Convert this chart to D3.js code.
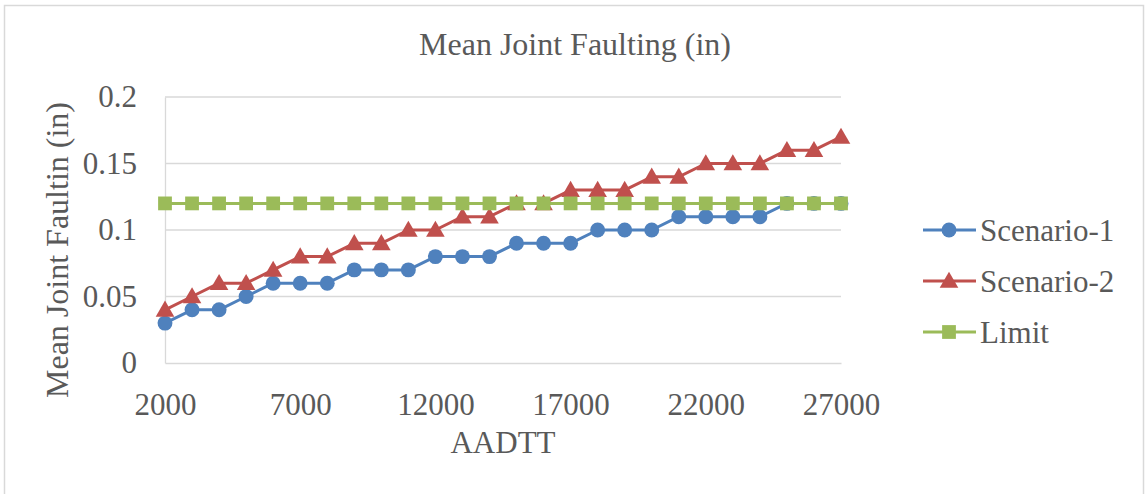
<!DOCTYPE html>
<html><head><meta charset="utf-8">
<script src="https://cdn.jsdelivr.net/npm/d3@7"></script>
<style>body{margin:0;background:#fff}svg{display:block}svg text{font-family:"Liberation Serif","Times New Roman",serif}</style>
</head><body>
<svg id="chart" width="1147" height="494"></svg>
<script>
const aadtt = [2000,3000,4000,5000,6000,7000,8000,9000,10000,11000,12000,13000,14000,15000,16000,17000,18000,19000,20000,21000,22000,23000,24000,25000,26000,27000];
const scenario1 = [0.03,0.04,0.04,0.05,0.06,0.06,0.06,0.07,0.07,0.07,0.08,0.08,0.08,0.09,0.09,0.09,0.10,0.10,0.10,0.11,0.11,0.11,0.11,0.12,0.12,0.12];
const scenario2 = [0.04,0.05,0.06,0.06,0.07,0.08,0.08,0.09,0.09,0.10,0.10,0.11,0.11,0.12,0.12,0.13,0.13,0.13,0.14,0.14,0.15,0.15,0.15,0.16,0.16,0.17];
const limit = [0.12,0.12,0.12,0.12,0.12,0.12,0.12,0.12,0.12,0.12,0.12,0.12,0.12,0.12,0.12,0.12,0.12,0.12,0.12,0.12,0.12,0.12,0.12,0.12,0.12,0.12];
const xTicks = [2000,7000,12000,17000,22000,27000];
const yTicks = [0,0.05,0.1,0.15,0.2];
const seriesNames = ["Scenario-1","Scenario-2","Limit"];

const svg = d3.select("#chart");
const font = "'Liberation Serif','Times New Roman',serif";
const textColor = "#595959";
const colors = ["#4F81BD","#C0504D","#9BBB59"];
const symbols = [d3.symbolCircle, d3.symbolTriangle, d3.symbolSquare];
const symSizes = [175, 150, 190];

// outer border
svg.append("rect").attr("x",4.5).attr("y",5.5).attr("width",1139).attr("height",490)
  .attr("fill","#fff").attr("stroke","#D9D9D9").attr("stroke-width",1.5);

const x = d3.scaleLinear().domain([2000,27000]).range([165,841]);
const y = d3.scaleLinear().domain([0,0.2]).range([363,97]);

// gridlines
svg.append("g").selectAll("line").data(yTicks.filter(d=>d>0)).join("line")
  .attr("x1",165).attr("x2",841).attr("y1",d=>y(d)).attr("y2",d=>y(d))
  .attr("stroke","#D9D9D9").attr("stroke-width",1.3);

// axes
const xAxis = svg.append("g").attr("transform","translate(0,363)")
  .call(d3.axisBottom(x).tickValues(xTicks).tickSize(0).tickPadding(30).tickFormat(d3.format("d")));
xAxis.attr("font-family",null);
xAxis.select(".domain").attr("stroke","#D9D9D9").attr("stroke-width",1.3);
xAxis.selectAll("text").style("font-family",font).attr("font-size",31).attr("fill",textColor);

const yAxis = svg.append("g").attr("transform","translate(165,0)")
  .call(d3.axisLeft(y).tickValues(yTicks).tickSize(0).tickPadding(28).tickFormat(d=>String(d)));
yAxis.attr("font-family",null);
yAxis.select(".domain").attr("stroke","#D9D9D9").attr("stroke-width",1.3);
yAxis.selectAll("text").style("font-family",font).attr("font-size",31).attr("fill",textColor);

// series
const allSeries = [scenario1, scenario2, limit];
allSeries.forEach((vals,i)=>{
  const data = aadtt.map((a,j)=>({a, v: vals[j]}));
  svg.append("path").datum(data)
    .attr("d", d3.line().x(d=>x(d.a)).y(d=>y(d.v)))
    .attr("fill","none").attr("stroke",colors[i]).attr("stroke-width",3).attr("stroke-linejoin","round");
  svg.append("g").selectAll("path").data(data).join("path")
    .attr("transform", d=>`translate(${x(d.a)},${y(d.v) + (i===1?1.5:0)})`)
    .attr("d", d3.symbol().type(symbols[i]).size(symSizes[i]))
    .attr("fill",colors[i]);
});

// title
svg.append("text").attr("x",575).attr("y",55).attr("text-anchor","middle")
  .style("font-family",font).attr("font-size",32).attr("fill",textColor).text("Mean Joint Faulting (in)");
// x title
svg.append("text").attr("x",503).attr("y",453).attr("text-anchor","middle")
  .style("font-family",font).attr("font-size",31).attr("fill",textColor).text("AADTT");
// y title
svg.append("text").attr("transform","translate(68,250) rotate(-90)").attr("text-anchor","middle")
  .style("font-family",font).attr("font-size",32).attr("fill",textColor).text("Mean Joint Faultin (in)");

// legend
const leg = svg.append("g");
seriesNames.forEach((name,i)=>{
  const ly = 230 + i*51;
  leg.append("line").attr("x1",923).attr("x2",976).attr("y1",ly).attr("y2",ly)
    .attr("stroke",colors[i]).attr("stroke-width",3);
  leg.append("path").attr("transform",`translate(949,${ly + (i===1?1.5:0)})`)
    .attr("d", d3.symbol().type(symbols[i]).size(symSizes[i])).attr("fill",colors[i]);
  leg.append("text").attr("x",980).attr("y",ly+11)
    .style("font-family",font).attr("font-size",31).attr("fill",textColor).text(name);
});
</script>
</body></html>
